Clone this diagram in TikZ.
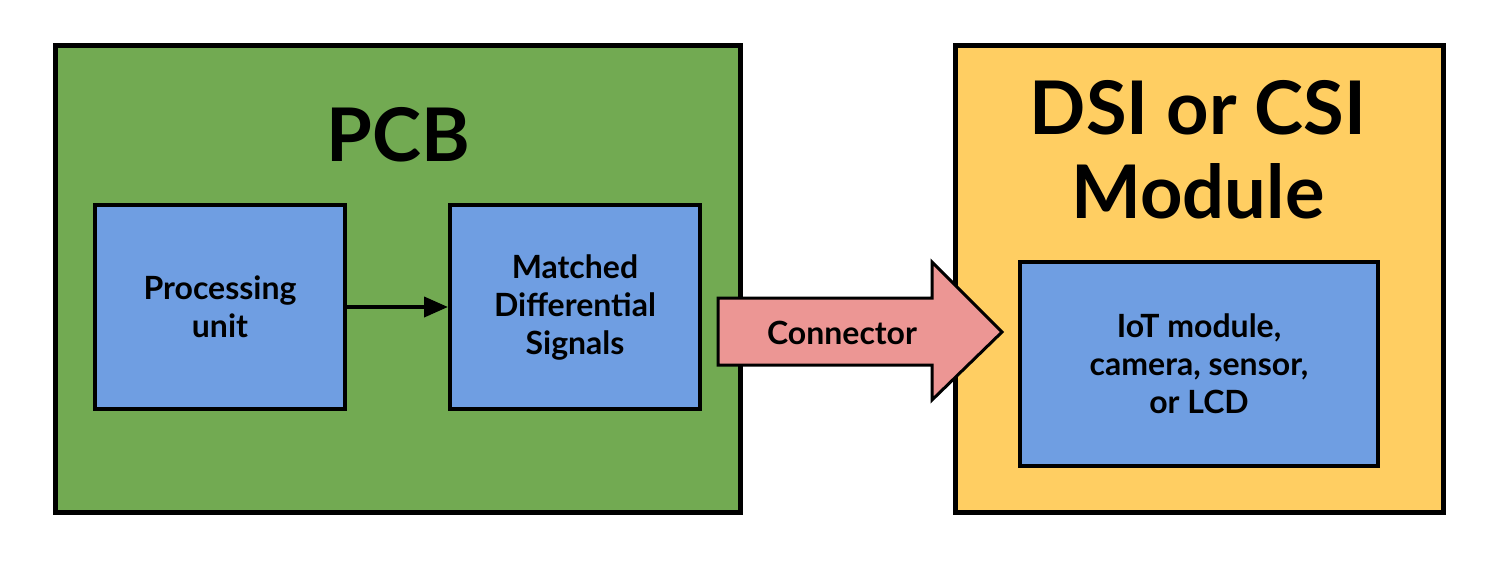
\documentclass[tikz,border=0pt]{standalone}
\usepackage{fontspec}
\setmainfont{Lato}
\usetikzlibrary{arrows.meta}
\definecolor{pcbgreen}{RGB}{114,170,82}
\definecolor{modyellow}{RGB}{255,206,98}
\definecolor{boxblue}{RGB}{111,158,226}
\definecolor{connpink}{RGB}{236,150,148}
\tikzset{
  outer/.style={draw=black, line width=2.5pt},
  inner/.style={draw=black, line width=2pt, fill=boxblue, align=center, font=\fontsize{16}{19}\selectfont\bfseries},
  title/.style={font=\fontsize{37}{42}\selectfont\bfseries, align=center}
}
\begin{document}
\begin{tikzpicture}[x=0.5pt,y=-0.5pt]
\useasboundingbox (0,0) rectangle (1508,568);
\fill[white] (0,0) rectangle (1508,568);
\draw[outer, fill=pcbgreen] (55,45) rectangle (740,512);
\draw[outer, fill=modyellow] (955,45) rectangle (1443,512);
\node[title] (pcb) at (398,135) {PCB};
\node[title] (mod) at (1198,150) {DSI or CSI\\Module};
\node[inner, minimum width=125pt, minimum height=102pt] (pu) at (220,307) {Processing\\unit};
\node[inner, minimum width=125pt, minimum height=102pt] (md) at (575,307) {Matched\\Differential\\Signals};
\node[inner, minimum width=179pt, minimum height=102pt] (iot) at (1199,364) {IoT module,\\camera, sensor,\\or LCD};
\draw[line width=2pt, -{Triangle[length=12pt,width=10pt]}] (pu.east) -- (md.west);
\draw[line width=1.5pt, fill=connpink, line join=miter]
  (718,298) -- (932,298) -- (932,262) -- (1002,332) -- (932,400) -- (932,365) -- (718,365) -- cycle;
\node[font=\fontsize{16}{19}\selectfont\bfseries] (conn) at (842,333) {Connector};
\end{tikzpicture}
\end{document}
